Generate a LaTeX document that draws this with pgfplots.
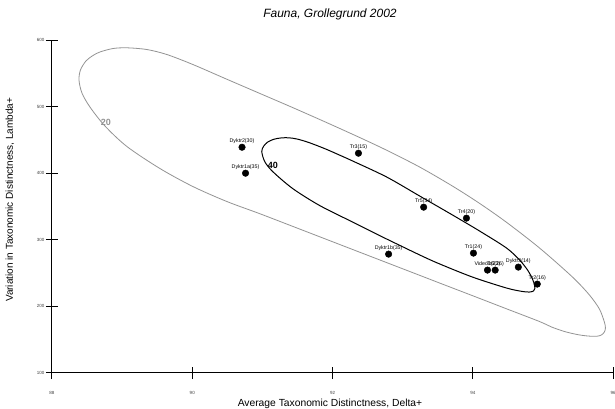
\documentclass[border=0pt]{standalone}
\usepackage{pgfplots}
\pgfplotsset{compat=1.18}
\usepackage{fontspec}
\setmainfont{Liberation Sans}
\begin{document}
\begin{tikzpicture}
\begin{axis}[
  scale only axis, width=561pt, height=333pt,
  xmin=88, xmax=96, ymin=100, ymax=600,
  axis x line*=bottom, axis y line*=left,
  axis line style={black, line width=1pt},
  xtick={88,90,92,94,96}, ytick={100,200,300,400,500,600},
  tick align=center, major tick length=12pt,
  tick style={black, line width=1pt},
  /pgf/number format/assume math mode=true,
  ticklabel style={font=\fontsize{4.5}{5}\selectfont, text=black!75},
  xticklabel style={yshift=-9pt},
  yticklabel style={xshift=2pt},
  title={\itshape Fauna, Grollegrund 2002},
  title style={font=\fontsize{12}{14}\selectfont, at={(0.4955,1)}, anchor=center, yshift=20pt},
  xlabel={Average Taxonomic Distinctness, Delta+},
  xlabel style={font=\fontsize{10.3}{12}\selectfont, at={(0.4955,0)}, anchor=center, yshift=-31pt},
  ylabel={Variation in Taxonomic Distinctness, Lambda+},
  ylabel style={font=\fontsize{10}{12}\selectfont, at={([xshift=-42pt]axis description cs:0,0.52)}, anchor=center},
  clip=false,
]
% outer probability contour (20)
\addplot[smooth, tension=0.5, gray!85, line width=0.8pt] coordinates {
(92.387,281.4) (91.533,316.1) (90.963,339.2) (90.493,357.5) (90.009,380.0)
(89.538,407.1) (89.068,440.1) (88.755,470.9) (88.541,499.4) (88.427,520.4)
(88.385,539.9) (88.406,555.0) (88.484,568.5) (88.584,576.7) (88.684,582.0)
(88.869,587.2) (89.068,588.3) (89.353,585.7) (89.638,578.2) (90.009,563.2)
(90.493,541.1) (90.963,519.8) (91.433,498.5) (91.917,476.0) (92.387,453.6)
(92.772,434.5) (93.242,409.3) (93.712,380.6) (94.097,354.7) (94.481,326.3)
(94.952,287.7) (95.422,244.1) (95.664,217.1) (95.806,196.1) (95.877,176.6)
(95.892,167.6) (95.877,161.6) (95.835,157.1) (95.764,155.1) (95.635,155.6)
(95.493,157.7) (95.308,162.3) (95.123,169.1) (94.952,177.3) (94.481,196.4)
(93.997,216.1) (93.527,235.1) (93.242,246.7) (92.387,281.4)
};
% inner probability contour (40)
\addplot[smooth, tension=0.5, black, line width=1pt] coordinates {
(92.715,304.1) (92.288,326.6) (91.818,351.4) (91.433,376.9) (91.148,402.4)
(91.034,417.4) (90.991,432.6) (91.020,440.8) (91.077,446.8) (91.162,450.9)
(91.262,452.9) (91.376,453.2) (91.504,451.1) (91.675,445.6) (91.903,436.3)
(92.145,425.1) (92.288,418.3) (92.772,394.3) (93.242,365.8) (93.712,337.2)
(94.097,313.2) (94.481,287.7) (94.667,269.7) (94.781,254.7) (94.852,241.1)
(94.880,232.1) (94.887,226.9) (94.866,223.1) (94.809,221.6) (94.709,222.4)
(94.481,227.6) (93.997,244.0) (93.527,263.8) (93.242,277.3) (92.715,304.1)
};
\addplot[only marks, mark=*, mark size=3.3pt, black,
  nodes near coords, point meta=explicit symbolic,
  every node near coord/.style={font=\fontsize{5.3}{6}\selectfont, inner sep=0pt, anchor=south, yshift=3pt, text=black}]
table[meta=label] {
x y label
90.71 439 Dyktr2(30)
90.76 400 Dyktr1a(35)
92.37 430 Tr3(15)
93.30 349 Tr5(34)
93.91 332.5 Tr4(20)
92.80 278.5 Dyktr1b(35)
94.01 280 Tr1(24)
94.21 254.5 Video1(23)
94.32 254.5 Tr6(26)
94.65 259 Dyktr3(14)
94.92 233.5 Tr2(16)
};
\node[text=gray!85, font=\bfseries\fontsize{9}{10}\selectfont] at (axis cs:88.77,476) {20};
\node[text=black, font=\bfseries\fontsize{9}{10}\selectfont] at (axis cs:91.15,412) {40};
\end{axis}
\pgfresetboundingbox
\path[use as bounding box] ([shift={(-52pt,-36pt)}]current axis.south west) rectangle ([shift={(563pt,373pt)}]current axis.south west);
\end{tikzpicture}
\end{document}
